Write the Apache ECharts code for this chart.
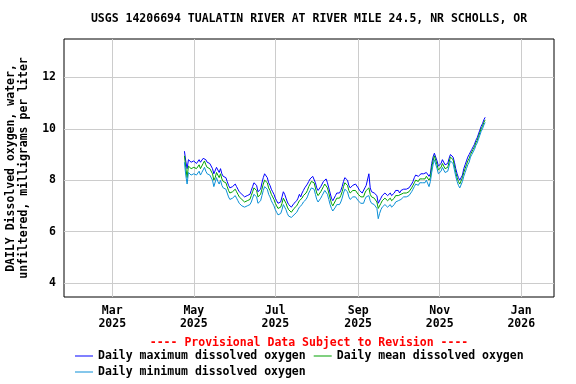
<!DOCTYPE html>
<html><head><meta charset="utf-8">
<script src="https://cdn.jsdelivr.net/npm/echarts@6/dist/echarts.min.js"></script>
<style>html,body{margin:0;padding:0;background:#fff}#c{width:576px;height:384px}</style>
</head><body><div id="c"></div>
<script>
const chartTitle = 'USGS 14206694 TUALATIN RIVER AT RIVER MILE 24.5, NR SCHOLLS, OR';
const yAxisTitle = 'DAILY Dissolved oxygen, water,\nunfiltered, milligrams per liter';
const provisionalNote = '---- Provisional Data Subject to Revision ----';
const seriesNames = ['Daily maximum dissolved oxygen', 'Daily mean dissolved oxygen', 'Daily minimum dissolved oxygen'];
const startDate = '2025-04-24';
const meanDO = [
8.95,8.5,8.1,8.55,8.6,8.45,8.4,8.5,8.55,8.45,
8.5,8.6,8.45,8.55,8.65,8.75,8.6,8.5,8.55,8.45,
8.4,8.25,8.0,8.1,8.3,8.2,8.1,8.25,8.05,7.95,
8.0,7.9,7.75,7.6,7.5,7.45,7.55,7.6,7.65,7.55,
7.45,7.35,7.3,7.25,7.2,7.15,7.15,7.2,7.15,7.25,
7.4,7.55,7.7,7.75,7.6,7.35,7.3,7.45,7.65,7.85,
8.0,8.05,7.9,7.7,7.6,7.45,7.35,7.25,7.1,7.0,
6.9,6.85,6.95,7.1,7.3,7.25,7.1,6.95,6.85,6.8,
6.75,6.8,6.9,6.95,7.0,7.1,7.2,7.15,7.3,7.4,
7.45,7.5,7.6,7.75,7.85,7.95,8.0,7.9,7.7,7.5,
7.4,7.45,7.55,7.65,7.75,7.85,7.9,7.7,7.5,7.3,
7.1,7.0,7.05,7.2,7.3,7.35,7.3,7.4,7.55,7.75,
7.9,7.95,7.8,7.6,7.5,7.55,7.6,7.65,7.6,7.55,
7.45,7.4,7.35,7.3,7.35,7.5,7.6,7.55,7.7,7.45,
7.35,7.3,7.3,7.3,7.15,6.9,6.95,7.1,7.2,7.25,
7.3,7.35,7.2,7.25,7.3,7.2,7.25,7.3,7.4,7.35,
7.4,7.35,7.45,7.5,7.5,7.5,7.5,7.5,7.55,7.6,
7.7,7.8,7.9,8.0,8.0,7.95,8.05,8.1,8.05,8.1,
8.05,8.15,8.2,8.0,8.1,8.5,8.75,8.95,8.9,8.6,
8.4,8.35,8.5,8.65,8.6,8.45,8.4,8.5,8.7,8.9,
8.95,8.8,8.55,8.3,8.1,7.95,7.85,7.9,8.1,8.3,
8.45,8.6,8.75,8.85,9.0,9.1,9.2,9.3,9.45,9.55,
9.7,9.85,10.0,10.1,10.25,10.35];
const maxDO = [
9.13,8.75,8.45,8.8,8.8,8.7,8.65,8.75,8.75,8.65,
8.7,8.8,8.7,8.75,8.85,8.9,8.8,8.7,8.75,8.65,
8.6,8.45,8.25,8.3,8.5,8.4,8.3,8.45,8.25,8.15,
8.2,8.1,7.95,7.8,7.7,7.65,7.75,7.8,7.85,7.75,
7.65,7.55,7.5,7.45,7.4,7.35,7.35,7.4,7.35,7.45,
7.6,7.75,7.9,7.95,7.8,7.55,7.5,7.65,7.9,8.1,
8.25,8.3,8.1,7.9,7.8,7.65,7.55,7.45,7.3,7.2,
7.1,7.05,7.15,7.35,7.55,7.45,7.3,7.15,7.05,7.0,
6.95,7.0,7.1,7.15,7.2,7.3,7.45,7.35,7.5,7.6,
7.7,7.75,7.85,7.95,8.05,8.1,8.15,8.1,7.9,7.7,
7.6,7.65,7.75,7.85,7.95,8.0,8.05,7.9,7.7,7.5,
7.3,7.2,7.25,7.4,7.5,7.55,7.5,7.6,7.75,7.95,
8.1,8.15,8.0,7.8,7.7,7.75,7.8,7.85,7.85,7.8,
7.7,7.6,7.55,7.5,7.55,7.7,7.8,7.8,8.25,7.7,
7.55,7.5,7.5,7.5,7.4,7.1,7.15,7.3,7.4,7.45,
7.5,7.55,7.4,7.45,7.5,7.4,7.45,7.5,7.6,7.55,
7.6,7.5,7.6,7.65,7.65,7.65,7.65,7.65,7.7,7.75,
7.85,7.95,8.1,8.2,8.2,8.15,8.2,8.25,8.2,8.25,
8.2,8.3,8.35,8.15,8.25,8.65,8.9,9.05,9.0,8.75,
8.55,8.5,8.65,8.8,8.75,8.6,8.55,8.65,8.85,9.0,
9.05,8.9,8.7,8.45,8.25,8.1,8.0,8.0,8.2,8.45,
8.6,8.75,8.9,9.0,9.1,9.2,9.3,9.4,9.55,9.65,
9.8,9.95,10.1,10.2,10.35,10.45];
const minDO = [
8.7,8.2,7.85,8.3,8.35,8.2,8.15,8.25,8.3,8.2,
8.25,8.35,8.2,8.3,8.4,8.5,8.35,8.25,8.3,8.2,
8.15,8.0,7.75,7.7,8.1,7.95,7.85,8.0,7.8,7.7,
7.75,7.65,7.5,7.35,7.25,7.2,7.3,7.35,7.4,7.3,
7.2,7.1,7.05,7.0,6.95,6.95,6.95,7.0,6.95,7.05,
7.15,7.3,7.45,7.5,7.35,7.1,7.05,7.2,7.4,7.6,
7.75,7.8,7.65,7.45,7.35,7.2,7.1,7.0,6.85,6.75,
6.65,6.6,6.7,6.85,7.05,7.0,6.85,6.7,6.6,6.55,
6.55,6.6,6.65,6.7,6.75,6.85,6.95,6.9,7.05,7.15,
7.2,7.25,7.35,7.5,7.6,7.7,7.75,7.65,7.45,7.25,
7.15,7.2,7.3,7.4,7.5,7.6,7.65,7.45,7.25,7.05,
6.9,6.8,6.85,6.95,7.05,7.1,7.05,7.15,7.3,7.5,
7.65,7.7,7.55,7.35,7.25,7.3,7.35,7.4,7.35,7.3,
7.2,7.15,7.1,7.05,7.1,7.25,7.35,7.3,7.4,7.2,
7.1,7.05,7.05,7.05,6.9,6.5,6.7,6.85,6.95,7.0,
7.05,7.1,6.95,7.0,7.05,6.95,7.0,7.05,7.15,7.1,
7.2,7.15,7.25,7.3,7.35,7.35,7.35,7.35,7.4,7.45,
7.55,7.65,7.75,7.85,7.85,7.8,7.9,7.95,7.9,7.95,
7.9,8.0,8.05,7.75,7.95,8.3,8.6,8.8,8.75,8.45,
8.25,8.2,8.35,8.5,8.45,8.3,8.25,8.35,8.55,8.75,
8.8,8.65,8.4,8.15,7.95,7.8,7.7,7.75,7.95,8.15,
8.3,8.45,8.6,8.7,8.9,9.0,9.1,9.2,9.35,9.45,
9.6,9.75,9.9,10.0,10.15,10.25];
const xTickDates = ['2025-03-01','2025-05-01','2025-07-01','2025-09-01','2025-11-01','2026-01-01'];
const xTickLabels = ['Mar\n2025','May\n2025','Jul\n2025','Sep\n2025','Nov\n2025','Jan\n2026'];
const yTicks = [4, 6, 8, 10, 12];

const DAY = 86400000;
const t0 = Date.parse(startDate);
const toPairs = arr => arr.map((v, i) => [t0 + i * DAY, v]);
const xTickTimes = xTickDates.map(d => Date.parse(d));
const FONT = 'DejaVu Sans Mono';
const txt = {fontFamily: FONT, fontWeight: 'bold', fontSize: 11.5, color: '#000'};

const chart = echarts.init(document.getElementById('c'), null, {renderer: 'canvas'});
const lineSeries = (name, data, color) => ({
  name, type: 'line', data, symbol: 'none', showSymbol: false,
  lineStyle: {color, width: 1}, itemStyle: {color}, animation: false
});
chart.setOption({
  animation: false,
  grid: {left: 64, right: 22, top: 39, bottom: 87, show: true, borderColor: '#000', borderWidth: 1, containLabel: false},
  xAxis: {
    type: 'value',
    min: Date.parse('2025-01-24') - 0.1 * DAY,
    max: Date.parse('2026-01-25') + 0.5 * DAY,
    axisLine: {show: false},
    axisTick: {show: false, customValues: xTickTimes},
    splitLine: {show: true, lineStyle: {color: '#cccccc', width: 1}},
    axisLabel: {
      customValues: xTickTimes,
      formatter: v => { const k = xTickTimes.indexOf(v); return k >= 0 ? xTickLabels[k] : ''; },
      margin: 8, lineHeight: 13, ...txt
    }
  },
  yAxis: {
    type: 'value', min: 3.45, max: 13.5,
    axisLine: {show: false},
    axisTick: {show: false, customValues: yTicks},
    splitLine: {show: true, lineStyle: {color: '#cccccc', width: 1}},
    axisLabel: {customValues: yTicks, margin: 8, ...txt}
  },
  legend: [
    {data: [seriesNames[0], seriesNames[1]], left: 70, top: 350, icon: 'rect', itemWidth: 18, itemHeight: 1, itemGap: 8,
     textStyle: txt, selectedMode: false, padding: [0, 5]},
    {data: [seriesNames[2]], left: 70, top: 366, icon: 'rect', itemWidth: 18, itemHeight: 1,
     textStyle: txt, selectedMode: false, padding: [0, 5]}
  ],
  graphic: [
    {type: 'text', x: 309, y: 19, style: {text: chartTitle, align: 'center', verticalAlign: 'middle', font: 'bold 11.5px "DejaVu Sans Mono"', fill: '#000'}},
    {type: 'text', x: 309, y: 343, style: {text: provisionalNote, align: 'center', verticalAlign: 'middle', font: 'bold 11.5px "DejaVu Sans Mono"', fill: '#ff0000'}},
    {type: 'text', x: 18, y: 168, rotation: Math.PI / 2, style: {text: yAxisTitle, align: 'center', verticalAlign: 'middle', lineHeight: 13, font: 'bold 11.5px "DejaVu Sans Mono"', fill: '#000'}}
  ],
  series: [
    lineSeries(seriesNames[0], toPairs(maxDO), '#0000ff'),
    lineSeries(seriesNames[1], toPairs(meanDO), '#00a000'),
    lineSeries(seriesNames[2], toPairs(minDO), '#0a8fd6')
  ]
});
</script></body></html>
